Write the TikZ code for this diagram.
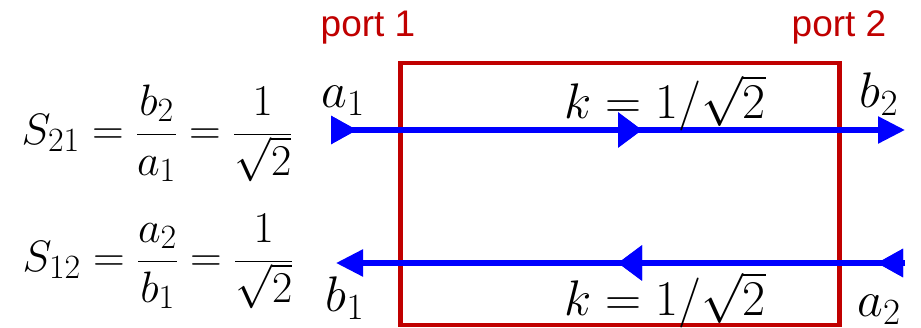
\RequirePackage{fix-cm}
\documentclass[tikz,border=0pt]{standalone}
\usepackage{fontspec}
\setmainfont{Liberation Sans}
\DeclareMathSizes{44}{44}{34}{26}
\DeclareMathSizes{50}{50}{37}{28}
\usetikzlibrary{arrows.meta,decorations.markings}
\definecolor{portred}{RGB}{192,0,0}
\tikzset{
  wave/.style={
    draw = blue,
    line width = 5.5pt,
    -{Triangle[length=27pt,width=26pt]}
  },
  midarrow/.style={
    postaction={decorate},
    decoration={markings,
      mark=at position #1 with {\arrow{Triangle[length=24pt,width=34pt]}}}
  },
  endarrow/.style={
    postaction={decorate},
    decoration={markings,
      mark=at position #1 with {\arrow{Triangle[length=26pt,width=27pt]}}}
  },
  portlabel/.style={
    anchor = base,
    inner sep = 0pt,
    text = portred,
    font = \fontsize{37}{42}\selectfont
  },
  wavelabel/.style={
    anchor = base,
    inner sep = 0pt,
    font = \fontsize{50}{56}\selectfont
  },
  eqlabel/.style={
    anchor = base,
    inner sep = 0pt,
    font = \fontsize{44}{50}\selectfont
  }
}

\begin{document}
\begin{tikzpicture}[x=1pt,y=-1pt]
  \useasboundingbox (0,0) rectangle (921,328);
  % two-port box
  \node[draw=portred, line width=4.5pt, minimum width=439pt, minimum height=262pt,
        inner sep=0pt] (box) at (620,194) {};
  \node[portlabel] (p1) at (368,37) {port 1};
  \node[portlabel] (p2) at (839,37) {port 2};
  % forward wave
  \coordinate (a1in) at (332,130);
  \coordinate (b2out) at (905,130);
  \draw[wave, endarrow=25pt, midarrow=310pt] (a1in) -- (b2out);
  % backward wave
  \coordinate (a2in) at (905,263);
  \coordinate (b1out) at (336,263);
  \draw[wave, endarrow=28pt, midarrow=287pt] (a2in) -- (b1out);
  % wave labels
  \node[wavelabel] (a1) at (343,108) {$a_1$};
  \node[wavelabel] (b2) at (879,108) {$b_2$};
  \node[wavelabel] (k1) at (665,119) {$k=1/\sqrt{2}$};
  \node[wavelabel] (b1) at (345,312) {$b_1$};
  \node[wavelabel] (a2) at (879,317) {$a_2$};
  \node[wavelabel] (k2) at (665,316) {$k=1/\sqrt{2}$};
  % scattering parameters
  \node[eqlabel] (s21) at (157,145) {$\displaystyle S_{21}=\frac{b_2}{a_1}=\frac{1}{\sqrt{2}}$};
  \node[eqlabel] (s12) at (158,272) {$\displaystyle S_{12}=\frac{a_2}{b_1}=\frac{1}{\sqrt{2}}$};
\end{tikzpicture}
\end{document}
